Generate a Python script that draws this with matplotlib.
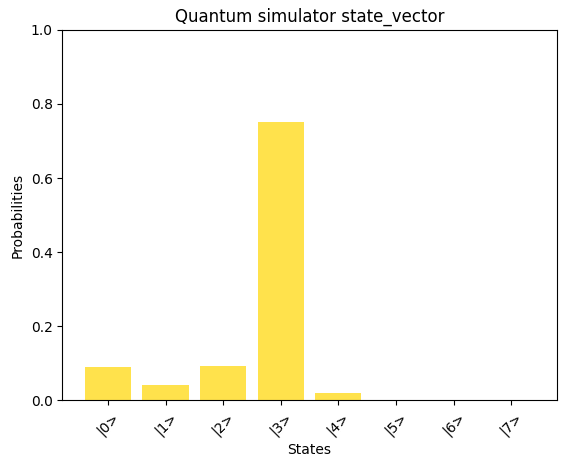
import matplotlib
matplotlib.use("Agg")
import matplotlib.pyplot as plt

# probabilités
states = ['|0>', '|1>', '|2>', '|3>', '|4>', '|5>', '|6>', '|7>']
probs = [0.09, 0.04, 0.093, 0.75, 0.02, 0.0, 0.0, 0.0]

fig, ax = plt.subplots(figsize=(5.67, 4.68), dpi=100)
ax.bar(range(len(states)), probs, 0.8, color='gold', alpha=0.7)
ax.set_xticks(range(len(states)))
ax.set_xticklabels(states, rotation=45)
ax.set_ylim(0, 1)
ax.set_xlabel('States')
ax.set_ylabel('Probabilities')
ax.set_title('Quantum simulator state_vector')

fig.subplots_adjust(left=0.11, right=0.982, top=0.936, bottom=0.145)
fig.savefig('out.png')
